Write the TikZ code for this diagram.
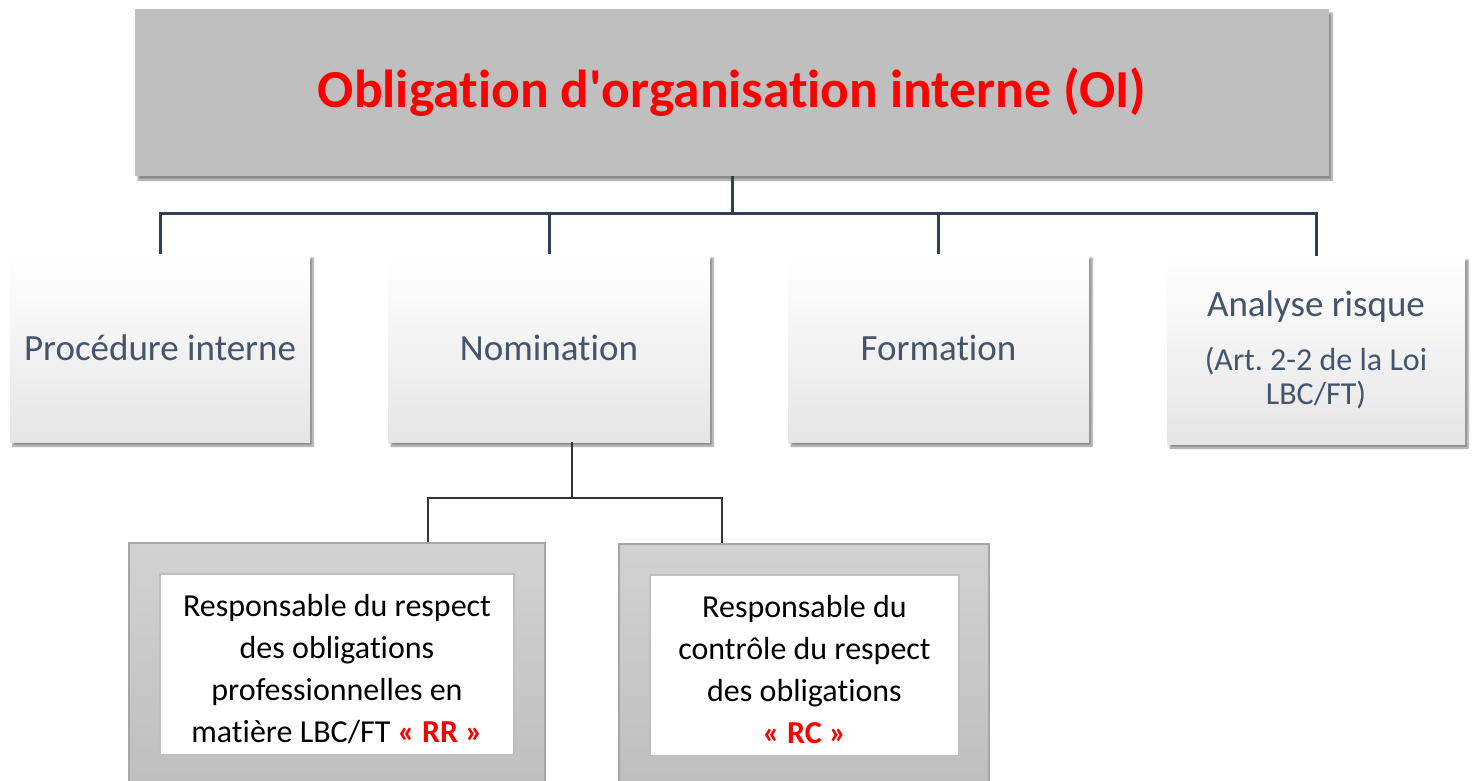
\documentclass[tikz,border=0pt]{standalone}
\usepackage{fontspec}
\setmainfont{Carlito}[Ligatures={NoCommon}]
\usetikzlibrary{shadows.blur}
\definecolor{slate}{RGB}{68,84,106}
\definecolor{conn}{RGB}{51,63,80}
\definecolor{topgray}{RGB}{191,191,191}
\definecolor{lowgray}{RGB}{229,229,229}
\definecolor{outtop}{RGB}{210,210,210}
\definecolor{outbot}{RGB}{190,190,190}
\definecolor{outline}{RGB}{166,166,166}
\definecolor{inline}{RGB}{191,191,191}
\definecolor{redt}{RGB}{255,0,0}
\newcommand{\downstrut}{\rule{0pt}{31pt}}
\tikzset{
  titlebox/.style={fill=topgray, draw=none, minimum width=1194pt, minimum height=167pt,
    blur shadow={shadow xshift=3pt, shadow yshift=-4pt, shadow blur steps=6, shadow opacity=45},
    text=redt, font=\fontsize{53.5}{64}\selectfont\bfseries},
  lvlbox/.style={draw=none, top color=white, middle color=white, bottom color=lowgray,
    minimum height=188pt,
    blur shadow={shadow xshift=3pt, shadow yshift=-4pt, shadow blur steps=6, shadow opacity=45},
    text=slate, align=center, font=\fontsize{37}{44}\selectfont},
  outbox/.style={draw=outline, line width=1.5pt, top color=outtop, bottom color=outbot},
  inbox/.style={draw=inline, line width=1.5pt, fill=white, align=center, text=black,
    font=\fontsize{32}{42}\selectfont},
  thick conn/.style={draw=conn, line width=3pt},
  thin conn/.style={draw=black!80, line width=1.8pt},
}
\begin{document}
\frenchspacing
\begin{tikzpicture}[x=1pt,y=-1pt]
\useasboundingbox (0,0) rectangle (1473,781);
\clip (0,0) rectangle (1473,781);

\node[titlebox] (top) at (732,92.5) {Obligation d\textquotesingle organisation interne (OI)};

\node[lvlbox, minimum width=300pt] (b1) at (160,348) {Procédure interne};
\node[lvlbox, minimum width=322pt] (b2) at (549,348) {Nomination};
\node[lvlbox, minimum width=301pt] (b3) at (938.5,348) {Formation};
\node[lvlbox, minimum width=298pt, font=\fontsize{37}{34}\selectfont] (b4) at (1316,350)
  {Analyse risque\\[20pt]{\fontsize{32}{34}\selectfont (Art. 2-2 de la Loi}\\{\fontsize{32}{34}\selectfont LBC/FT)}};

\coordinate (j) at (732,213);
\draw[thick conn] (top.south) -- (j);
\draw[thick conn] (j) -| (b1.north);
\draw[thick conn] (j) -| (b2.north);
\draw[thick conn] (j) -| (b3.north);
\draw[thick conn] (j) -| (b4.north);

\node[outbox, minimum width=416pt, minimum height=247pt] (o1) at (337,666.5) {};
\node[outbox, minimum width=370pt, minimum height=246pt] (o2) at (804,667) {};
\node[inbox, minimum width=354pt, minimum height=181pt] (i1) at (337,664.5)
  {\downstrut Responsable du respect\\des obligations\\professionnelles en\\matière LBC/FT {\color{redt}\bfseries « RR »}};
\node[inbox, minimum width=309pt, minimum height=181pt] (i2) at (804.5,665.5)
  {\downstrut Responsable du\\contrôle du respect\\des obligations\\{\color{redt}\bfseries « RC »}};

\coordinate (k) at (572,498);
\draw[thin conn] ([xshift=23pt]b2.south) -- (k);
\draw[thin conn] (k) -| ([xshift=91pt]o1.north);
\draw[thin conn] (k) -| ([xshift=-82pt]o2.north);
\end{tikzpicture}
\end{document}
